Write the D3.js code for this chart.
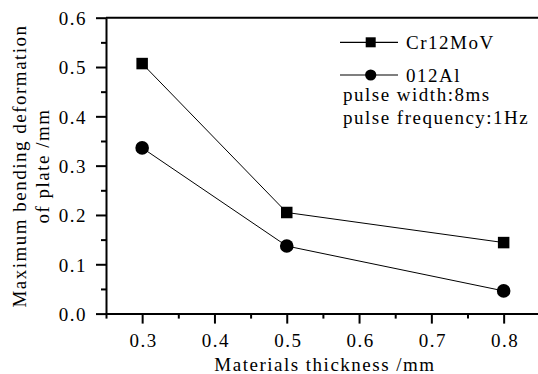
<!DOCTYPE html>
<html>
<head>
<meta charset="utf-8">
<script src="https://cdn.jsdelivr.net/npm/d3@7"></script>
<style>
  body { margin: 0; background: #fff; }
  svg text { font-family: "Liberation Serif", serif; font-size: 19px; letter-spacing: 1.5px; fill: #000; }
</style>
</head>
<body>
<svg width="538" height="374"></svg>
<script>
const width = 538;
const height = 374;
const margin = ({top: 17.7, left: 106, bottom: 60.4});

// data
const thickness = [0.3, 0.5, 0.8];
const cr12mov = [0.507, 0.205, 0.144];
const al012 = [0.336, 0.137, 0.046];
const xTicks = [0.3, 0.4, 0.5, 0.6, 0.7, 0.8];
const xMinor = [0.25, 0.35, 0.45, 0.55, 0.65, 0.75, 0.85];
const yTicks = [0, 0.1, 0.2, 0.3, 0.4, 0.5, 0.6];
const yMinor = [0.05, 0.15, 0.25, 0.35, 0.45, 0.55];
const seriesNames = ["Cr12MoV", "012Al"];
const notes = ["pulse width:8ms", "pulse frequency:1Hz"];

const x = d3.scaleLinear()
    .domain([0.25, 0.85])
    .range([margin.left, margin.left + 0.6 * 723]);

const y = d3.scaleLinear()
    .domain([0, 0.6])
    .range([height - margin.bottom, margin.top]);

const svg = d3.select("svg");

const styleAxis = g => g
    .attr("font-family", null)
    .attr("font-size", null)
    .call(g => g.select(".domain").attr("stroke-width", 2))
    .call(g => g.selectAll(".tick line").attr("stroke-width", 2));

// x axis
svg.append("g")
    .attr("transform", `translate(0,${y(0)})`)
    .call(d3.axisBottom(x).tickValues(xTicks).tickSize(10).tickSizeOuter(0)
        .tickPadding(10).tickFormat(d3.format(".1f")))
    .call(styleAxis)
    .call(g => g.selectAll(".tick text").attr("dx", "1px"));

svg.append("g")
    .attr("transform", `translate(0,${y(0)})`)
    .call(d3.axisBottom(x).tickValues(xMinor).tickSize(5).tickFormat(""))
    .call(g => g.select(".domain").remove())
    .call(g => g.selectAll(".tick line").attr("stroke-width", 2));

// y axis
svg.append("g")
    .attr("transform", `translate(${x(0.25)},0)`)
    .call(d3.axisLeft(y).tickValues(yTicks).tickSize(10).tickSizeOuter(0)
        .tickPadding(9).tickFormat(d3.format(".1f")))
    .call(styleAxis)
    .call(g => g.selectAll(".tick text").attr("dy", "0.36em"));

svg.append("g")
    .attr("transform", `translate(${x(0.25)},0)`)
    .call(d3.axisLeft(y).tickValues(yMinor).tickSize(5).tickFormat(""))
    .call(g => g.select(".domain").remove())
    .call(g => g.selectAll(".tick line").attr("stroke-width", 2));

// frame top and right
svg.append("path")
    .attr("d", `M${x(0.25)},${y(0.6)}H${x(0.85)}V${y(0)}`)
    .attr("fill", "none")
    .attr("stroke", "#000")
    .attr("stroke-width", 2);

// axis labels
svg.append("text")
    .attr("x", 325)
    .attr("y", 371)
    .attr("text-anchor", "middle")
    .text("Materials thickness /mm");

svg.append("text")
    .attr("transform", "translate(26,166) rotate(-90)")
    .attr("text-anchor", "middle")
    .text("Maximum bending deformation");

svg.append("text")
    .attr("transform", "translate(49,166) rotate(-90)")
    .attr("text-anchor", "middle")
    .text("of plate /mm");

// series
const line = d3.line()
    .x((d, i) => x(thickness[i]))
    .y(d => y(d));

svg.append("path")
    .attr("d", line(cr12mov))
    .attr("fill", "none")
    .attr("stroke", "#000")
    .attr("stroke-width", 1);

svg.append("path")
    .attr("d", line(al012))
    .attr("fill", "none")
    .attr("stroke", "#000")
    .attr("stroke-width", 1);

svg.append("g")
    .selectAll("rect")
    .data(cr12mov)
    .join("rect")
    .attr("x", (d, i) => x(thickness[i]) - 5.75)
    .attr("y", d => y(d) - 5.75)
    .attr("width", 11.5)
    .attr("height", 11.5)
    .attr("fill", "#000");

svg.append("g")
    .selectAll("circle")
    .data(al012)
    .join("circle")
    .attr("cx", (d, i) => x(thickness[i]))
    .attr("cy", d => y(d))
    .attr("r", 6.8)
    .attr("fill", "#000");

// legend
const legend = svg.append("g");
const legendY = [42.3, 75];

legend.selectAll("line")
    .data(seriesNames)
    .join("line")
    .attr("x1", 340)
    .attr("x2", 398)
    .attr("y1", (d, i) => legendY[i])
    .attr("y2", (d, i) => legendY[i])
    .attr("stroke", "#000")
    .attr("stroke-width", 1.2);

legend.append("rect")
    .attr("x", 370.7 - 5)
    .attr("y", legendY[0] - 5)
    .attr("width", 10)
    .attr("height", 10)
    .attr("fill", "#000");

legend.append("circle")
    .attr("cx", 370.7)
    .attr("cy", legendY[1])
    .attr("r", 5.6)
    .attr("fill", "#000");

legend.selectAll("text.name")
    .data(seriesNames)
    .join("text")
    .attr("class", "name")
    .attr("x", 406)
    .attr("y", (d, i) => legendY[i] + 6.5)
    .text(d => d);

legend.selectAll("text.note")
    .data(notes)
    .join("text")
    .attr("class", "note")
    .attr("x", 343)
    .attr("y", (d, i) => 100.5 + i * 23)
    .text(d => d);
</script>
</body>
</html>
